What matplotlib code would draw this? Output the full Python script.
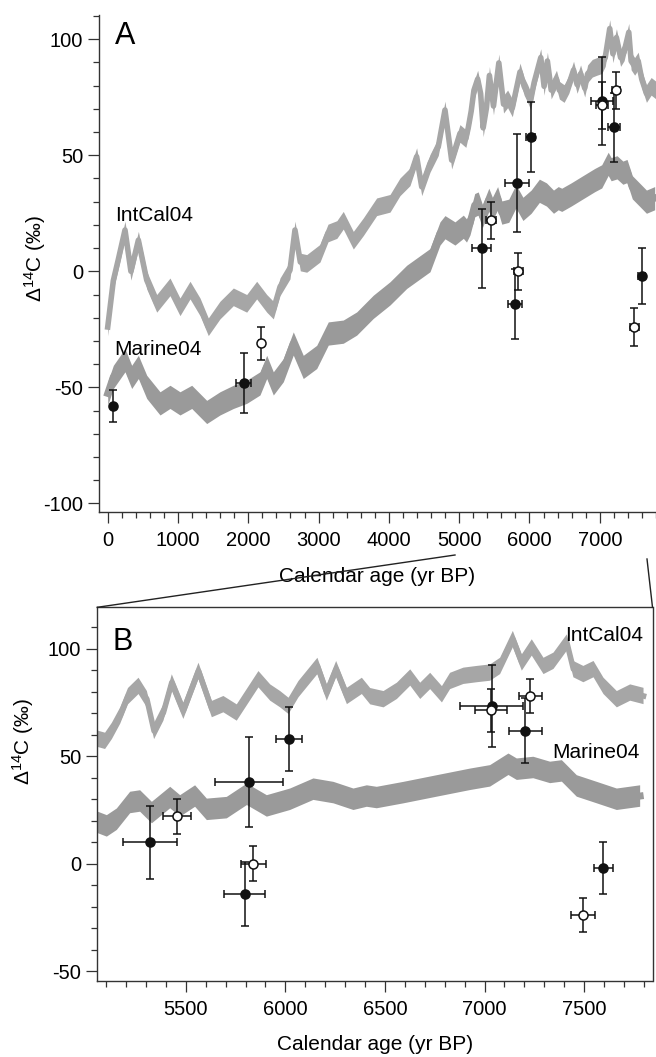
import matplotlib
matplotlib.use("Agg")
import matplotlib.pyplot as plt
from matplotlib.lines import Line2D
from matplotlib.ticker import MultipleLocator

plt.rcParams["font.family"] = ["Liberation Sans", "DejaVu Sans"]
plt.rcParams["mathtext.default"] = "regular"
plt.rcParams["axes.unicode_minus"] = False

# ---- calibration curves (turning points) ----
intcal_age = [0, 80, 150, 246, 330, 436, 555, 697, 886, 1028, 1171, 1313, 1431,
              1597, 1787, 1977, 2119, 2262, 2356, 2451, 2593, 2664, 2740, 2831,
              3020, 3134, 3260, 3351, 3494, 3636, 3826, 4016, 4158, 4300, 4395,
              4467, 4585, 4703, 4798, 4893, 5011,
              5095, 5129, 5171, 5210, 5263, 5305, 5341, 5388, 5430, 5488, 5564,
              5631, 5689, 5756, 5865, 5924, 5974, 6016, 6066, 6161, 6208, 6255,
              6309, 6384, 6426, 6493, 6560, 6627, 6677, 6727, 6786, 6827, 6894,
              6961, 7028, 7078, 7142, 7187, 7237, 7296, 7346, 7413, 7446, 7496,
              7547, 7597, 7664, 7731, 7798]
intcal_d14c = [-24, -4, 5, 17.8, 0, 13.4, -3.8, -13.8, -6.7, -15.3, -8.1, -15.3, -23.9,
               -16.7, -11, -13.8, -8.1, -13.8, -16.7, -6.7, 0.5, 17.8, 4, 3.4,
               7.8, 16.5, 18, 22, 13.4, 19.2, 27.8, 29.3, 36.4, 40.7, 49.4,
               36.4, 46.5, 53.7, 69.5, 47.9, 59.4,
               57.2, 61.8, 69, 78, 82.8, 76.6, 61.8, 70.4, 84.4, 71.2, 89.8,
               72, 74.3, 70.4, 85.9, 79.7, 76.6, 73.5, 81.3, 92.1, 79.7, 90.6,
               78.1, 82.8, 78, 76.6, 80.5, 86.7, 80.5, 85.1, 78.9, 85.1, 87.5,
               88.3, 89, 92.1, 104.6, 93.7, 100.7, 92.1, 94.5, 103, 90.6, 88.3,
               90.6, 82.8, 76.6, 79.7, 78.1]

marine_age = [0, 80, 246, 341, 436, 555, 744, 886, 1028, 1195, 1408, 1597, 1787,
              1977, 2166, 2262, 2356, 2498, 2640, 2782, 2973, 3138, 3351, 3542,
              3778, 4016, 4253, 4585, 4727, 4798, 4940, 5059,
              5104, 5154, 5221, 5271, 5330, 5422, 5472, 5547, 5606, 5706, 5807,
              5907, 6024, 6141, 6242, 6342, 6409, 6459, 6593, 6760, 6928, 7028,
              7120, 7162, 7245, 7329, 7388, 7463, 7564, 7664, 7781]
marine_d14c = [-52.6, -45.5, -38.3, -45.5, -41.2, -49.8, -56.9, -54.1, -56.9, -54.1,
               -60.6, -56.9, -54.1, -51.9, -48.3, -41.2, -48.3, -42.6, -31.1, -41.2,
               -36.9, -26.8, -26, -22.5, -15.3, -9.5, -2.4, 4.8, 16.3, 19, 16.3, 19.2,
               17.6, 20.7, 28.5, 29.2, 23.8, 30.8, 26.9, 31.5, 25.3, 26.1, 32.3,
               26.9, 30, 34.7, 33.1, 30, 31.5, 30.8, 33.1, 36.2, 39.3, 40.9,
               46.3, 44, 44.8, 42.5, 43.2, 36.2, 33.1, 30, 31.5]

# ---- samples ----
filled_age = [80, 1935, 5320, 5796, 5817, 6019, 7035, 7205, 7597]
filled_age_err = [0, 105, 135, 103, 170, 65, 160, 84, 47]
filled_d14c = [-58, -48, 10, -14, 38, 58, 73.5, 62, -2]
filled_d14c_err = [7, 13, 17, 15, 21, 15, 19, 15, 12]

open_age = [2176, 5455, 5840, 7031, 7230, 7494]
open_age_err = [20, 70, 64, 80, 57, 62]
open_d14c = [-31, 22, 0, 71.5, 78, -24]
open_d14c_err = [7, 8, 8, 10, 8, 8]

INTCAL_SD = 3.8
MARINE_SD = 5.0
W, H = 656, 1057


def draw(ax):
    lo = [v - INTCAL_SD for v in intcal_d14c]
    hi = [v + INTCAL_SD for v in intcal_d14c]
    ax.fill_between(intcal_age, lo, hi, color="#a6a6a6", lw=0)
    ax.plot(intcal_age, intcal_d14c, color="#a6a6a6", lw=4)
    lo = [v - MARINE_SD for v in marine_d14c]
    hi = [v + MARINE_SD for v in marine_d14c]
    ax.fill_between(marine_age, lo, hi, color="#9a9a9a", lw=0)
    ax.plot(marine_age, marine_d14c, color="#9a9a9a", lw=5)
    eb = dict(fmt="o", ecolor="#111111", elinewidth=1.1, capsize=3.2,
              capthick=1.1, markersize=6.5, markeredgecolor="#111111",
              markeredgewidth=1.1, zorder=5)
    ax.errorbar(filled_age, filled_d14c, yerr=filled_d14c_err,
                xerr=filled_age_err, markerfacecolor="#111111", **eb)
    ax.errorbar(open_age, open_d14c, yerr=open_d14c_err,
                xerr=open_age_err, markerfacecolor="white", **eb)


def style(ax):
    ax.tick_params(which="major", direction="out", length=8, width=0.9,
                   labelsize=14.5, color="#333333")
    ax.tick_params(which="minor", direction="out", length=4.5, width=0.9,
                   color="#333333")
    ax.tick_params(axis="x", which="major", pad=6)
    ax.tick_params(axis="y", which="major", pad=3.5)
    for s in ax.spines.values():
        s.set_linewidth(1.0)
        s.set_color("#333333")


fig = plt.figure(figsize=(W / 100, H / 100), dpi=100)

# panel A
axA = fig.add_axes([99 / W, 1 - 512 / H, 557 / W, (512 - 15.3) / H])
draw(axA)
axA.set_xlim(-124, 7800)
axA.set_ylim(-103.7, 110.3)
axA.spines["top"].set_visible(False)
axA.spines["right"].set_visible(False)
axA.xaxis.set_minor_locator(MultipleLocator(200))
axA.yaxis.set_major_locator(MultipleLocator(50))
axA.yaxis.set_minor_locator(MultipleLocator(10))
axA.set_xticks([0, 1000, 2000, 3000, 4000, 5000, 6000, 7000])
style(axA)
axA.set_xlabel("Calendar age (yr BP)", fontsize=15)
axA.xaxis.set_label_coords(0.5, (512 - 576) / (512 - 15.3))
axA.xaxis.label.set_va("center")
axA.text(0.028, 0.988, "A", transform=axA.transAxes, fontsize=22,
         ha="left", va="top")
axA.text(100, 24, "IntCal04", fontsize=15, ha="left", va="center")
axA.text(100, -33.5, "Marine04", fontsize=15, ha="left", va="center")

# panel B
axB = fig.add_axes([97.3 / W, 1 - 980.7 / H, (652.5 - 97.3) / W, (980.7 - 607.3) / H])
draw(axB)
axB.set_xlim(5056, 7843)
axB.set_ylim(-54.5, 119.4)
axB.xaxis.set_major_locator(MultipleLocator(500))
axB.xaxis.set_minor_locator(MultipleLocator(100))
axB.yaxis.set_major_locator(MultipleLocator(50))
axB.yaxis.set_minor_locator(MultipleLocator(10))
style(axB)
axB.set_xlabel("Calendar age (yr BP)", fontsize=15)
axB.xaxis.set_label_coords(0.5, (980.7 - 1044) / (980.7 - 607.3))
axB.xaxis.label.set_va("center")
axB.text(0.027, 0.947, "B", transform=axB.transAxes, fontsize=22,
         ha="left", va="top")
axB.text(7795, 106.4, "IntCal04", fontsize=15, ha="right", va="center")
axB.text(7780, 52, "Marine04", fontsize=15, ha="right", va="center")

# y labels
ylab = "\u0394$^{14}$C (\u2030)"
fig.text(35 / W, 1 - 258 / H, ylab, rotation=90, fontsize=15,
         ha="center", va="center")
fig.text(23 / W, 1 - 741 / H, ylab, rotation=90, fontsize=15,
         ha="center", va="center")

# zoom connector lines
fig.add_artist(Line2D([97.3 / W, 455 / W], [1 - 607.3 / H, 1 - 555 / H],
                      color="#222222", lw=1.0))
fig.add_artist(Line2D([647 / W, 652.5 / W], [1 - 559 / H, 1 - 607.3 / H],
                      color="#222222", lw=1.0))

fig.savefig("out.png", dpi=100)
